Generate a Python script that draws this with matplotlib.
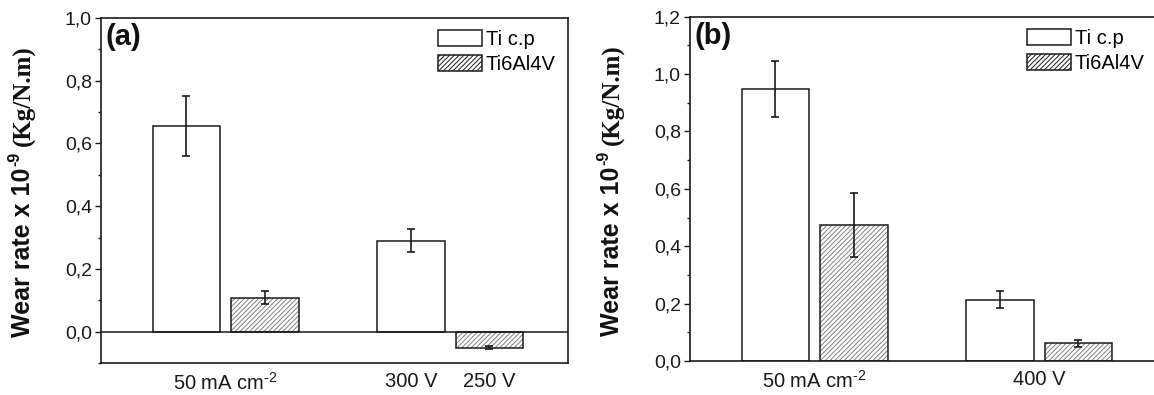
import numpy as np
import matplotlib
matplotlib.use('Agg')
import matplotlib.pyplot as plt
from matplotlib.ticker import MultipleLocator, FuncFormatter, FixedLocator
from matplotlib.transforms import IdentityTransform
from matplotlib.patches import Patch

plt.rcParams['font.family'] = ['Liberation Sans', 'DejaVu Sans']
plt.rcParams['mathtext.fontset'] = 'custom'
plt.rcParams['mathtext.rm'] = 'Liberation Sans'
plt.rcParams['mathtext.it'] = 'Liberation Sans:italic'
plt.rcParams['mathtext.bf'] = 'Liberation Sans:bold'
plt.rcParams['hatch.linewidth'] = 0.7

# ---------------- data ----------------
series = ['Ti c.p', 'Ti6Al4V']

# panel (a)
a_groups = [1, 2]
a_ticp = [0.656, 0.290]
a_ticp_err = [0.095, 0.036]
a_ti64 = [0.108, -0.051]
a_ti64_err = [0.021, 0.005]
a_ticklabels = ['50 mA cm$^{\\text{-2}}$', '300 V', '250 V']

# panel (b)
b_groups = [1, 2]
b_ticp = [0.948, 0.213]
b_ticp_err = [0.098, 0.030]
b_ti64 = [0.473, 0.062]
b_ti64_err = [0.111, 0.012]
b_ticklabels = ['50 mA cm$^{\\text{-2}}$', '400 V']

W, H = 1154, 395
fig = plt.figure(figsize=(W / 100, H / 100), dpi=100)

OFF = 0.175
BW = 0.30
EDGE = '#1a1a1a'
HATCHC = '#808080'


def fmt(v, pos):
    return ('%.1f' % v).replace('.', ',')


def panel(rect, groups, v1, e1, v2, e2, ylim, ticks, ticklabels, letter, zero_line):
    ax = fig.add_axes(rect)
    g = np.array(groups, dtype=float)
    x1 = g - OFF
    x2 = g + OFF
    # Ti c.p : white bars
    ax.bar(x1, v1, width=BW, facecolor='white', edgecolor=EDGE, linewidth=1.1, zorder=2)
    # Ti6Al4V : hatched bars (hatch grey, outline black)
    ax.bar(x2, v2, width=BW, facecolor='white', edgecolor=HATCHC, linewidth=0,
           hatch='///////', zorder=2)
    ax.bar(x2, v2, width=BW, facecolor='none', edgecolor=EDGE, linewidth=1.1, zorder=3)
    ax.errorbar(x1, v1, yerr=e1, fmt='none', ecolor=EDGE, elinewidth=1.2,
                capsize=2.8, capthick=1.2, zorder=4)
    ax.errorbar(x2, v2, yerr=e2, fmt='none', ecolor=EDGE, elinewidth=1.2,
                capsize=2.8, capthick=1.2, zorder=4)
    if zero_line:
        ax.axhline(0, color=EDGE, linewidth=1.1, zorder=3)
    ax.set_xlim(0.445, 2.525)
    ax.set_ylim(*ylim)
    ax.yaxis.set_major_locator(MultipleLocator(0.2))
    ax.yaxis.set_minor_locator(MultipleLocator(0.1))
    ax.yaxis.set_major_formatter(FuncFormatter(fmt))
    ax.tick_params(axis='y', which='major', length=4.5, width=1.0, pad=2,
                   labelsize=14, colors=EDGE, direction='out')
    ax.tick_params(axis='y', which='minor', length=2.2, width=1.0, colors=EDGE, direction='out')
    ax.xaxis.set_major_locator(FixedLocator(ticks))
    ax.set_xticklabels(ticklabels)
    ax.tick_params(axis='x', length=0, pad=6.5, labelsize=14.5, colors=EDGE)
    for s in ax.spines.values():
        s.set_color(EDGE)
        s.set_linewidth(1.2)
    ax.text(0.009, 0.985, letter, transform=ax.transAxes, ha='left', va='top',
            fontsize=21, fontweight='bold', color='#111111')
    handles = [Patch(facecolor='white', edgecolor=EDGE, linewidth=1.1),
               Patch(facecolor='white', edgecolor=EDGE, linewidth=1.1, hatch='///////')]
    ax.legend(handles, series, loc='upper left', bbox_to_anchor=(0.722, 0.965),
              frameon=False, fontsize=14.5, handlelength=2.2, handleheight=0.85,
              handletextpad=0.15, labelspacing=0.3, borderpad=0, borderaxespad=0)
    return ax


ax_a = panel([101 / W, 32 / H, 467 / W, 345 / H], a_groups, a_ticp, a_ticp_err,
             a_ti64, a_ti64_err, (-0.1, 1.0),
             [a_groups[0], a_groups[1] - OFF, a_groups[1] + OFF], a_ticklabels, '(a)', True)
ax_b = panel([690 / W, 34 / H, 467 / W, 344.3 / H], b_groups, b_ticp, b_ticp_err,
             b_ti64, b_ti64_err, (0.0, 1.2),
             b_groups, b_ticklabels, '(b)', False)


def ylabel(xbase, ycenter):
    r = fig.canvas.get_renderer()
    kw = dict(rotation=90, rotation_mode='anchor', ha='left', va='baseline',
              transform=IdentityTransform(), color='#111111', fontweight='bold')
    t1 = fig.text(0, 0, 'Wear rate x 10', fontsize=18, family='Liberation Sans', **kw)
    t2 = fig.text(0, 0, '-9', fontsize=11.5, family='Liberation Sans', **kw)
    t3 = fig.text(0, 0, '(Kg/N.m)', fontsize=18, family='Liberation Serif', **kw)
    h1 = t1.get_window_extent(r).height
    h2 = t2.get_window_extent(r).height
    h3 = t3.get_window_extent(r).height
    gap1, gap2 = 1, 6
    total = h1 + gap1 + h2 + gap2 + h3
    y0 = ycenter - total / 2
    t1.set_position((xbase, y0))
    t2.set_position((xbase - 11, y0 + h1 + gap1))
    t3.set_position((xbase, y0 + h1 + gap1 + h2 + gap2))


ylabel(30, H - 191)
ylabel(619, H - 190)

fig.savefig('out.png', dpi=100)
